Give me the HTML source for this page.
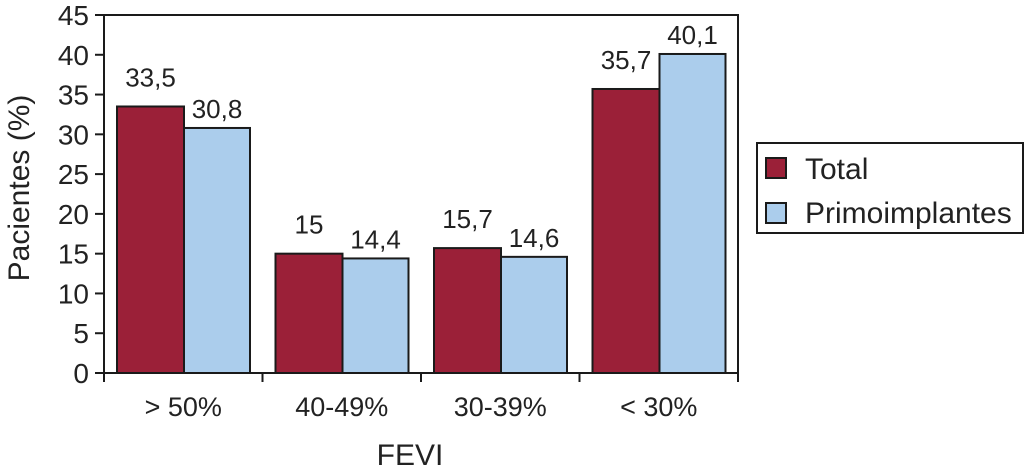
<!DOCTYPE html>
<html><head><meta charset="utf-8"><style>
body{margin:0;background:#fff;}
svg{display:block;font-family:"Liberation Sans",sans-serif;}
</style></head><body>
<svg width="1024" height="473">
<g id="g"></g>
</svg>
<script>
const categories=["> 50%","40-49%","30-39%","< 30%"];
const totalValues=[33.5,15,15.7,35.7];
const primoValues=[30.8,14.4,14.6,40.1];
const totalLabels=["33,5","15","15,7","35,7"];
const primoLabels=["30,8","14,4","14,6","40,1"];
const yTicks=[0,5,10,15,20,25,30,35,40,45];
const X0=104,X1=738,Y0=373,Y1=15,YMAX=45;
const y=v=>Y0-(Y0-Y1)*v/YMAX;
const gw=(X1-X0)/categories.length;
const g=document.getElementById('g');
const NS="http://www.w3.org/2000/svg";
function mk(t,a,txt){const e=document.createElementNS(NS,t);for(const k in a)e.setAttribute(k,a[k]);if(txt!==undefined)e.textContent=txt;g.appendChild(e);return e;}
categories.forEach((c,i)=>{
  const gx=X0+gw*i;
  const bw=67;
  const tx=gx+13;
  let r=mk('rect',{x:tx,y:y(totalValues[i]),width:bw,height:Y0-y(totalValues[i]),fill:'#9b2038',stroke:'#1a1a1a','stroke-width':2});
  
  
  r=mk('rect',{x:tx+bw,y:y(primoValues[i]),width:66,height:Y0-y(primoValues[i]),fill:'#abcdec',stroke:'#1a1a1a','stroke-width':2});
  
  
  let t=mk('text',{x:tx+bw/2,y:y(totalValues[i])-20,'text-anchor':'middle','font-size':26,fill:'#222'},totalLabels[i]);
  
  
  t=mk('text',{x:tx+bw+33,y:y(primoValues[i])-10,'text-anchor':'middle','font-size':26,fill:'#222'},primoLabels[i]);
  
  
  t=mk('text',{x:gx+gw/2,y:416,'text-anchor':'middle','font-size':27,fill:'#222'},c);
  
  
});
for(let i=0;i<=categories.length;i++){const x=X0+gw*i;const l=mk('line',{x1:x,y1:Y0,x2:x,y2:Y0+9,stroke:'#1a1a1a','stroke-width':2});}
yTicks.forEach(v=>{
  const l=mk('line',{x1:95,y1:y(v),x2:X0,y2:y(v),stroke:'#1a1a1a','stroke-width':2});
  
  
  const t=mk('text',{x:89,y:y(v)+10,'text-anchor':'end','font-size':28,fill:'#222'},String(v));
  
  
});
const f=mk('rect',{x:X0,y:Y1,width:X1-X0,height:Y0-Y1,fill:'none',stroke:'#1a1a1a','stroke-width':2});


let t=mk('text',{x:0,y:0,'text-anchor':'middle','font-size':30,fill:'#222',transform:'translate(29,188) rotate(-90)'},'Pacientes (%)');


t=mk('text',{x:410,y:465,'text-anchor':'middle','font-size':30,fill:'#222'},'FEVI');


const lg=mk('rect',{x:757,y:143,width:266,height:90,fill:'#fff',stroke:'#1a1a1a','stroke-width':2});


let s=mk('rect',{x:766,y:158,width:20,height:20,fill:'#9b2038',stroke:'#1a1a1a','stroke-width':2});


s=mk('rect',{x:766,y:203,width:20,height:20,fill:'#abcdec',stroke:'#1a1a1a','stroke-width':2});


t=mk('text',{x:805,y:179,'font-size':30,fill:'#222'},'Total');


t=mk('text',{x:805,y:223,'font-size':30,fill:'#222'},'Primoimplantes');


</script>
</body></html>
